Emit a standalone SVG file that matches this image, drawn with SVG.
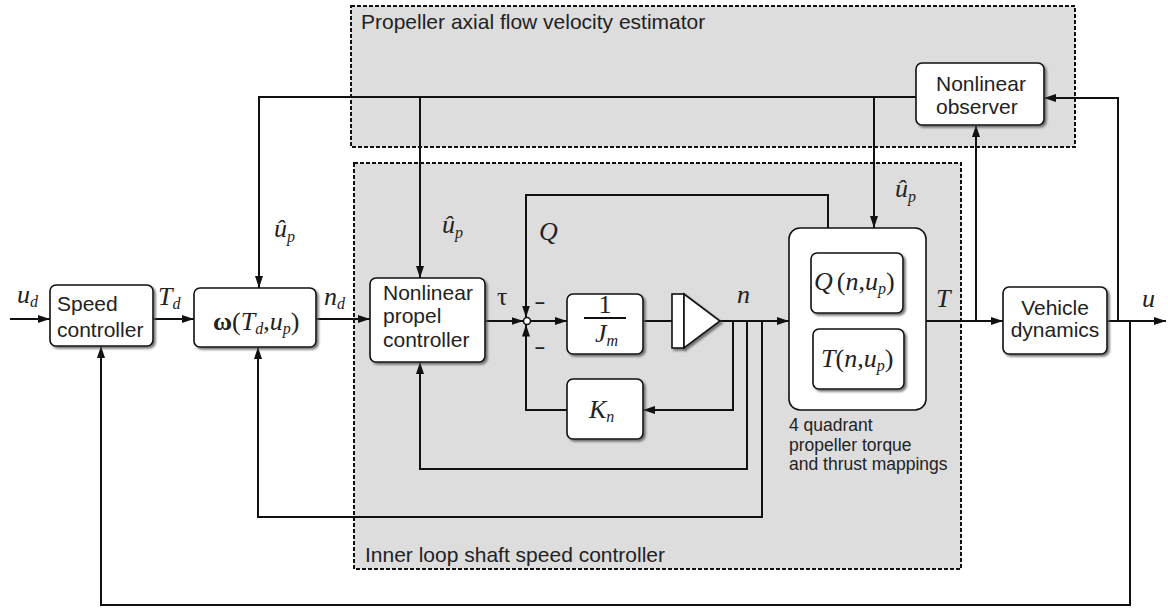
<svg xmlns="http://www.w3.org/2000/svg" width="1168" height="610" viewBox="0 0 1168 610">
<defs>
<marker id="ah" viewBox="0 0 12 8" refX="12" refY="4" markerWidth="12" markerHeight="8" markerUnits="userSpaceOnUse" orient="auto"><path d="M0,0 L12,4 L0,8 z" fill="#111"/></marker>
<filter id="sh" x="-10%" y="-10%" width="130%" height="130%"><feDropShadow dx="2" dy="2" stdDeviation="0.8" flood-color="#555" flood-opacity="0.8"/></filter>
</defs>
<style>
.region{fill:#dddddd;stroke:#111;stroke-width:2;stroke-dasharray:4 2}
.box{fill:#fff;stroke:#111;stroke-width:1.6;filter:url(#sh)}
.w{fill:none;stroke:#111;stroke-width:2}
.a{marker-end:url(#ah)}
.lbl{font-family:"Liberation Sans",Arial,sans-serif;font-size:21px;fill:#222}
.sm{font-family:"Liberation Sans",Arial,sans-serif;font-size:17.5px;fill:#222}
.m{font-family:"Liberation Serif","Times New Roman",serif;font-style:italic;font-size:26px;fill:#222}
.up{font-style:normal}
.s{font-size:16px}
</style>
<rect width="1168" height="610" fill="#fff"/>
<g id="region-estimator">
<rect class="region" x="351" y="6" width="724" height="141"/>
<text class="lbl" x="361" y="29">Propeller axial flow velocity estimator</text>
</g>
<g id="region-inner">
<rect class="region" x="354" y="163" width="607" height="406"/>
<text class="lbl" x="365" y="562">Inner loop shaft speed controller</text>
</g>
<g id="connectors">
<path class="w a" d="M10,319 H50"/>
<path class="w a" d="M153,319 H194"/>
<path class="w a" d="M316,319 H370"/>
<path class="w a" d="M485,321 H523.5"/>
<path class="w a" d="M530.5,321 H567"/>
<path class="w" d="M643,321 H672"/>
<path class="w a" d="M720,321 H789"/>
<path class="w a" d="M733,321 V410 H643"/>
<path class="w a" d="M567,410 H526 V324.5"/>
<path class="w a" d="M828,228 V195 H526 V317.5"/>
<path class="w a" d="M747,321 V469 H420 V362"/>
<path class="w a" d="M762,321 V517 H258 V347"/>
<path class="w a" d="M926,321 H1003"/>
<path class="w a" d="M976,321 V125"/>
<path class="w a" d="M1107,321 H1166"/>
<path class="w a" d="M1118,321 V98 H1044"/>
<path class="w a" d="M1130,321 V605 H101 V346"/>
<path class="w a" d="M916,97 H259 V288"/>
<path class="w a" d="M420,97 V278"/>
<path class="w a" d="M874,97 V228"/>
<circle cx="527" cy="321" r="3.5" fill="#fff" stroke="#111" stroke-width="1.6"/>
</g>
<g id="speed-controller">
<rect class="box" x="50" y="285" width="103" height="61" rx="6"/>
<text class="lbl" x="57" y="311">Speed</text>
<text class="lbl" x="57" y="337">controller</text>
</g>
<g id="omega">
<rect class="box" x="194" y="288" width="122" height="59" rx="6"/>
<text class="m" x="213" y="330"><tspan class="up" font-weight="bold">ω</tspan><tspan class="up">(</tspan>T<tspan class="s" dy="4">d</tspan><tspan class="up" dy="-4">,</tspan>u<tspan class="s" dy="4">p</tspan><tspan class="up" dy="-4">)</tspan></text>
</g>
<g id="propel-controller">
<rect class="box" x="370" y="278" width="115" height="84" rx="6"/>
<text class="lbl" x="383" y="300">Nonlinear</text>
<text class="lbl" x="383" y="323">propel</text>
<text class="lbl" x="383" y="347">controller</text>
</g>
<g id="inv-jm">
<rect class="box" x="567" y="294" width="76" height="60" rx="6"/>
<text class="m up" x="605" y="313" text-anchor="middle" font-size="22">1</text>
<line x1="584" y1="318" x2="626" y2="318" stroke="#111" stroke-width="2"/>
<text class="m" x="595" y="342">J<tspan class="s" dy="4">m</tspan></text>
</g>
<g id="gain">
<rect x="672" y="294" width="12" height="54" fill="#fff" stroke="#111" stroke-width="1.6" filter="url(#sh)"/>
<path d="M684,294 L720,321 L684,348 Z" fill="#fff" stroke="#111" stroke-width="1.6" filter="url(#sh)"/>
</g>
<g id="kn">
<rect class="box" x="567" y="379" width="76" height="60" rx="6"/>
<text class="m" x="589" y="418">K<tspan class="s" dy="4">n</tspan></text>
</g>
<g id="mappings">
<rect x="789" y="228" width="137" height="182" rx="11" fill="#fff" stroke="#111" stroke-width="1.6"/>
<rect class="box" x="811" y="253" width="92" height="60" rx="6"/>
<text class="m" x="814" y="290">Q<tspan class="up" dx="4">(</tspan>n<tspan class="up">,</tspan>u<tspan class="s" dy="4">p</tspan><tspan class="up" dy="-4">)</tspan></text>
<rect class="box" x="813" y="329" width="91" height="60" rx="6"/>
<text class="m" x="821" y="367">T<tspan class="up">(</tspan>n<tspan class="up">,</tspan>u<tspan class="s" dy="4">p</tspan><tspan class="up" dy="-4">)</tspan></text>
<text class="sm" x="789" y="431">4 quadrant</text>
<text class="sm" x="789" y="451">propeller torque</text>
<text class="sm" x="789" y="470">and thrust mappings</text>
</g>
<g id="vehicle-dynamics">
<rect class="box" x="1003" y="287" width="104" height="67" rx="6"/>
<text class="lbl" x="1055" y="315" text-anchor="middle">Vehicle</text>
<text class="lbl" x="1055" y="337" text-anchor="middle">dynamics</text>
</g>
<g id="observer">
<rect class="box" x="916" y="63" width="128" height="62" rx="6"/>
<text class="lbl" x="936" y="91">Nonlinear</text>
<text class="lbl" x="936" y="114">observer</text>
</g>
<g id="labels">
<text class="m" x="17" y="303">u<tspan class="s" dy="4">d</tspan></text>
<text class="m" x="158" y="305">T<tspan class="s" dy="4">d</tspan></text>
<text class="m" x="324" y="305">n<tspan class="s" dy="4">d</tspan></text>
<text class="m up" x="497" y="305" font-size="24">τ</text>
<text class="sm" x="535" y="308" font-weight="bold" font-size="17">–</text>
<text class="sm" x="535" y="353" font-weight="bold" font-size="17">–</text>
<text class="m" x="539" y="240">Q</text>
<text class="m" x="737" y="303">n</text>
<text class="m" x="936" y="307">T</text>
<text class="m" x="1142" y="307">u</text>
<text class="m" x="274" y="237">û<tspan class="s" dy="5">p</tspan></text>
<text class="m" x="442" y="233">û<tspan class="s" dy="5">p</tspan></text>
<text class="m" x="895" y="197">û<tspan class="s" dy="5">p</tspan></text>
</g>
</svg>
